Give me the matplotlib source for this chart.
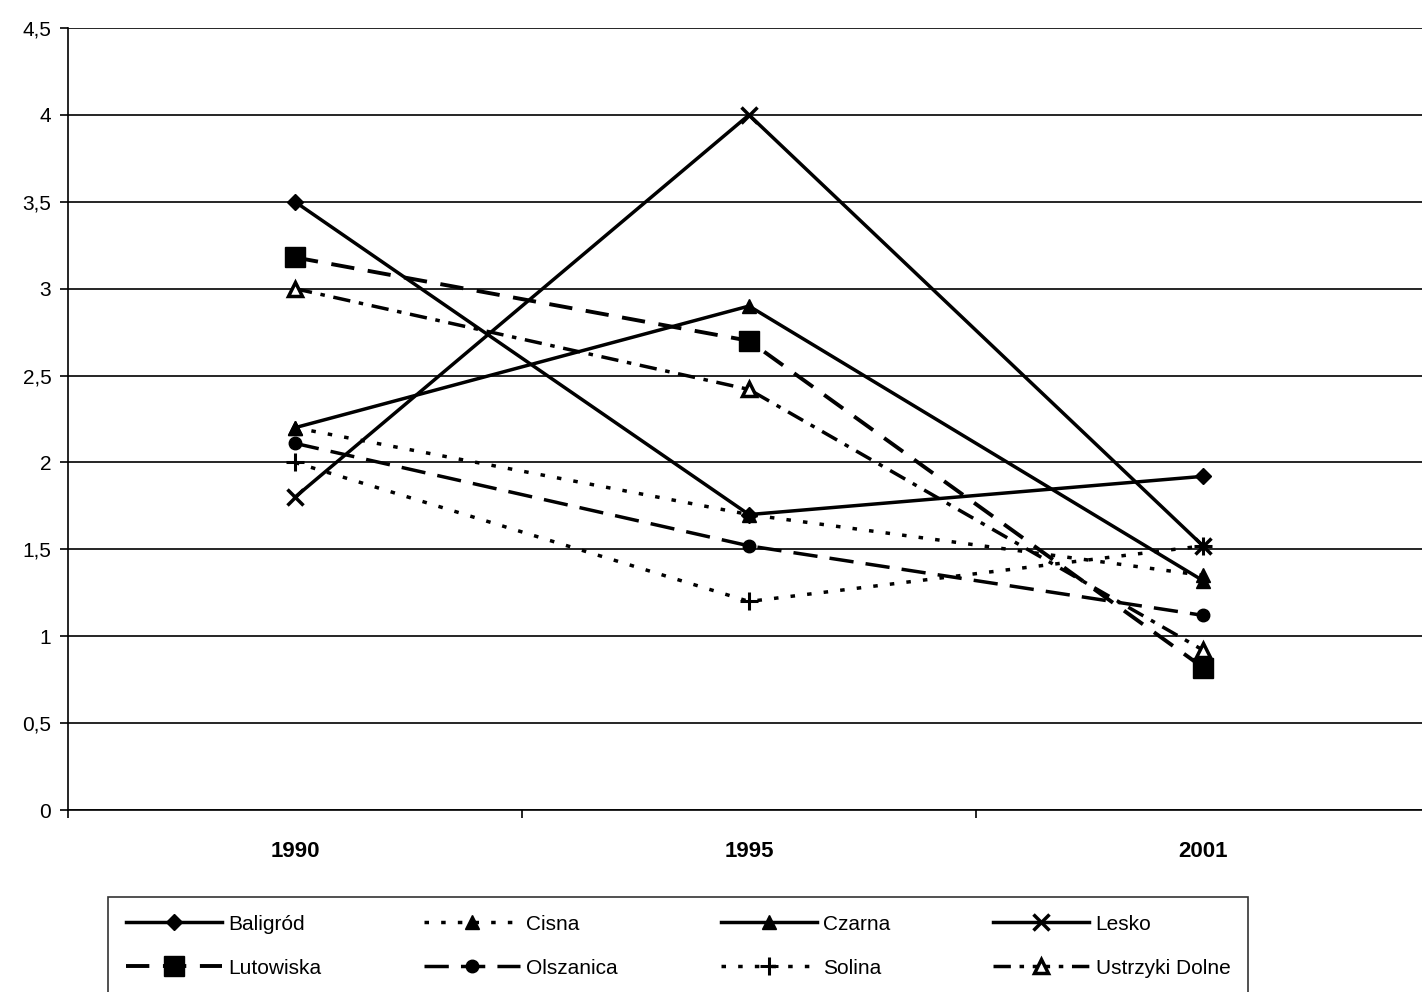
import numpy as np
import matplotlib.pyplot as plt

# --- Data ---
years = ['1990', '1995', '2001']
baligrod = [3.5, 1.7, 1.92]
cisna = [2.2, 1.7, 1.35]
czarna = [2.2, 2.9, 1.32]
lesko = [1.8, 4.0, 1.52]
lutowiska = [3.18, 2.7, 0.82]
olszanica = [2.11, 1.52, 1.12]
solina = [2.0, 1.2, 1.52]
ustrzyki = [3.0, 2.42, 0.92]

plt.rcParams['font.family'] = ['Liberation Sans', 'DejaVu Sans']

fig = plt.figure(figsize=(14.22, 9.92), dpi=100)
ax = fig.add_axes([68 / 1422, 1 - 810 / 992, (1430 - 68) / 1422, (810 - 28) / 992])

x = np.arange(len(years))
lw = 2.5
handles = {}
handles['Baligród'], = ax.plot(x, baligrod, color='black', lw=lw, ls='-', marker='D', ms=8, label='Baligród')
handles['Cisna'], = ax.plot(x, cisna, color='black', lw=lw, ls=(0, (1.3, 3.5)), marker='^', ms=10, label='Cisna')
handles['Czarna'], = ax.plot(x, czarna, color='black', lw=lw, ls='-', marker='^', ms=10, label='Czarna')
handles['Lesko'], = ax.plot(x, lesko, color='black', lw=lw, ls='-', marker='x', ms=12, mew=2.5, label='Lesko')
handles['Lutowiska'], = ax.plot(x, lutowiska, color='black', lw=2.8, ls=(0, (6, 3.5)), marker='s', ms=15, label='Lutowiska')
handles['Olszanica'], = ax.plot(x, olszanica, color='black', lw=lw, ls=(0, (7, 3.5)), marker='o', ms=9, label='Olszanica')
handles['Solina'], = ax.plot(x, solina, color='black', lw=lw, ls=(0, (1.3, 3.5)), marker='+', ms=13, mew=2.2, label='Solina')
handles['Ustrzyki Dolne'], = ax.plot(x, ustrzyki, color='black', lw=lw, ls=(0, (5, 2.5, 1.3, 2.5)), marker='^', ms=10,
                                     mfc='white', mec='black', mew=2.5, label='Ustrzyki Dolne')

ax.set_xlim(-0.5, 2.5)
ax.set_ylim(0, 4.5)
yt = np.arange(0, 4.51, 0.5)
ax.set_yticks(yt)
ax.set_yticklabels([('%g' % v).replace('.', ',') for v in yt], fontsize=15)
ax.yaxis.grid(True, color='black', lw=1.2)
ax.set_axisbelow(True)

ax.set_xticks([-0.5, 0.5, 1.5])
ax.set_xticklabels([])
ax.set_xticks(x, minor=True)
ax.set_xticklabels(years, minor=True, fontsize=16, fontweight='bold')
ax.tick_params(axis='x', which='minor', length=0, pad=22)
ax.tick_params(axis='x', which='major', length=6, width=1.2)
ax.tick_params(axis='y', length=6, width=1.2, pad=6)

for s in ['top', 'right']:
    ax.spines[s].set_visible(False)
ax.spines['left'].set_linewidth(1.2)
ax.spines['bottom'].set_linewidth(1.2)

order = ['Baligród', 'Lutowiska', 'Cisna', 'Olszanica', 'Czarna', 'Solina', 'Lesko', 'Ustrzyki Dolne']
leg = fig.legend([handles[k] for k in order], order, ncol=4, loc='upper left',
                 bbox_to_anchor=(108 / 1422, 0, 1140 / 1422, 1 - 897 / 992), mode='expand',
                 borderaxespad=0, fontsize=15, frameon=True, fancybox=False, edgecolor='black',
                 handlelength=4.6, handletextpad=0.3, labelspacing=1.2, borderpad=0.85)
leg.get_frame().set_linewidth(1.2)

fig.savefig('out.png', dpi=100)
